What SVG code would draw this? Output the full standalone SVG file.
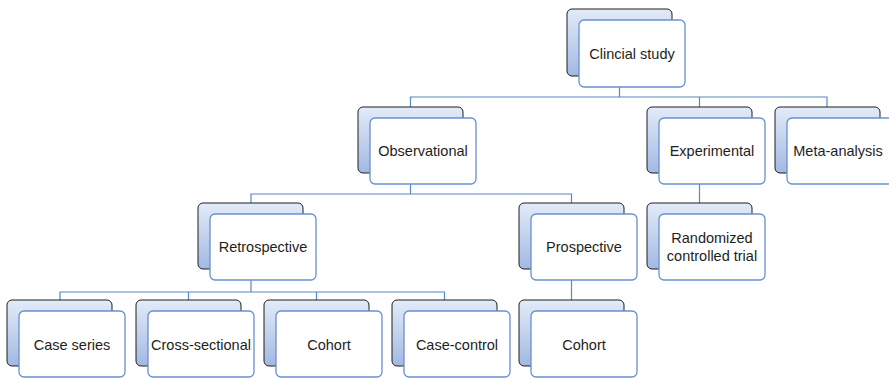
<svg xmlns="http://www.w3.org/2000/svg" width="889" height="378" viewBox="0 0 889 378">
<defs>
<linearGradient id="g" x1="0" y1="0" x2="0" y2="1">
<stop offset="0" stop-color="#e3ebf8"/>
<stop offset="1" stop-color="#a2b8e4"/>
</linearGradient>
<style>
.back{fill:url(#g);stroke:#1e1e1e;stroke-width:1}
.front{fill:#fff;stroke:#6890d2;stroke-width:1.3}
.t{font-family:"Liberation Sans",Arial,sans-serif;font-size:14.5px;fill:#1e1e1e;text-anchor:middle}
.c{fill:none;stroke:#5a86c8;stroke-width:1.2}
</style>
</defs>
<rect width="889" height="378" fill="#fff"/>
<g id="connectors" class="c">
<path d="M619.5 87V97M410.5 107V97H827V107M699.5 97V107"/>
<path d="M410.5 184V194M251 203V194H571.5V203"/>
<path d="M699.5 184V203"/>
<path d="M251 280V292M60 300V292H444.5V300M188.5 292V300M316.5 292V300"/>
<path d="M571.5 280V300"/>
</g>
<g id="clinical"><rect class="back" x="567" y="9" width="105" height="67" rx="5"/><rect class="front" x="579" y="20" width="106" height="67" rx="5"/><text class="t" x="632" y="58.5">Clincial study</text></g>
<g id="observational"><rect class="back" x="358" y="107" width="105" height="66" rx="5"/><rect class="front" x="370" y="118" width="106" height="66" rx="5"/><text class="t" x="423" y="156">Observational</text></g>
<g id="experimental"><rect class="back" x="647" y="107" width="105" height="66" rx="5"/><rect class="front" x="659" y="118" width="106" height="66" rx="5"/><text class="t" x="712" y="156">Experimental</text></g>
<g id="meta"><rect class="back" x="775" y="107" width="105" height="66" rx="5"/><rect class="front" x="787" y="118" width="106" height="66" rx="5"/><text class="t" x="838" y="156">Meta-analysis</text></g>
<g id="retrospective"><rect class="back" x="198" y="203" width="105" height="66" rx="5"/><rect class="front" x="210" y="214" width="106" height="66" rx="5"/><text class="t" x="263" y="252">Retrospective</text></g>
<g id="prospective"><rect class="back" x="519" y="203" width="105" height="66" rx="5"/><rect class="front" x="531" y="214" width="106" height="66" rx="5"/><text class="t" x="584" y="252">Prospective</text></g>
<g id="rct"><rect class="back" x="647" y="203" width="105" height="66" rx="5"/><rect class="front" x="659" y="214" width="106" height="66" rx="5"/><text class="t" x="712" y="243">Randomized</text><text class="t" x="712" y="261">controlled trial</text></g>
<g id="caseseries"><rect class="back" x="7" y="300" width="105" height="66" rx="5"/><rect class="front" x="19" y="311" width="106" height="66" rx="5"/><text class="t" x="72" y="350">Case series</text></g>
<g id="crosssectional"><rect class="back" x="136" y="300" width="105" height="66" rx="5"/><rect class="front" x="148" y="311" width="106" height="66" rx="5"/><text class="t" x="201" y="350">Cross-sectional</text></g>
<g id="cohort1"><rect class="back" x="264" y="300" width="105" height="66" rx="5"/><rect class="front" x="276" y="311" width="106" height="66" rx="5"/><text class="t" x="329" y="350">Cohort</text></g>
<g id="casecontrol"><rect class="back" x="392" y="300" width="105" height="66" rx="5"/><rect class="front" x="404" y="311" width="106" height="66" rx="5"/><text class="t" x="457" y="350">Case-control</text></g>
<g id="cohort2"><rect class="back" x="519" y="300" width="105" height="66" rx="5"/><rect class="front" x="531" y="311" width="106" height="66" rx="5"/><text class="t" x="584" y="350">Cohort</text></g>
</svg>
